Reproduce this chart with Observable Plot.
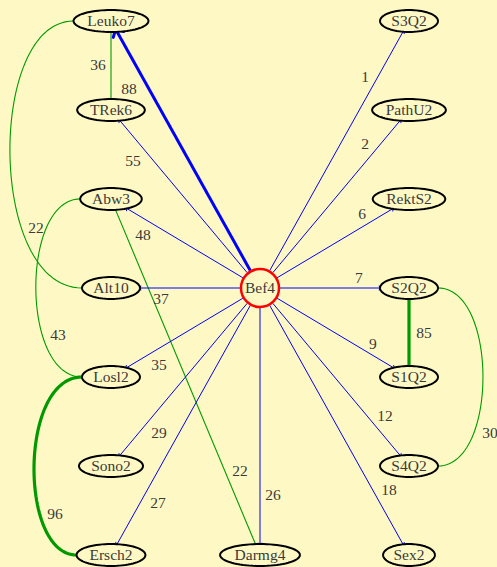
<!DOCTYPE html>
<html><head><meta charset="utf-8">
<script src="https://cdn.jsdelivr.net/npm/d3@7"></script>
<script src="https://cdn.jsdelivr.net/npm/@observablehq/plot@0.6"></script>
<style>html,body{margin:0;padding:0;background:#fef9c4;}</style>
</head><body><div id="chart"></div>
<script>
// Nodes (graph layout: grid column / row)
const nodeNames = ["Bef4","Leuko7","TRek6","Abw3","Alt10","Losl2","Sono2","Ersch2","Darmg4","Sex2","S4Q2","S1Q2","S2Q2","RektS2","PathU2","S3Q2"];
const nodeCol   = [1, 0,0,0,0,0,0,0, 1, 2,2,2,2,2,2,2];
const nodeRow   = [3, 0,1,2,3,4,5,6, 6, 6,5,4,3,2,1,0];

// Directed edges from the hub Bef4 (blue)
const hub = "Bef4";
const arrowTargets  = ["Leuko7","TRek6","Abw3","Alt10","Losl2","Sono2","Ersch2","Darmg4","Sex2","S4Q2","S1Q2","S2Q2","RektS2","PathU2","S3Q2"];
const arrowValues   = [88,55,48,37,35,29,27,26,18,12,9,7,6,2,1];
const arrowLabelCol = [0.121,0.148,0.215,0.336,0.322,0.322,0.315,1.087,1.866,1.839,1.758,1.664,1.685,1.705,1.705];
const arrowLabelRow = [0.764,1.573,2.404,3.124,3.865,4.629,5.416,5.326,5.270,4.438,3.629,2.888,2.169,1.382,0.629];

// Undirected edges (green)
const linkSource   = ["Leuko7","Leuko7","Abw3","Abw3","Losl2","S2Q2","S2Q2"];
const linkTarget   = ["TRek6","Alt10","Losl2","Darmg4","Ersch2","S1Q2","S4Q2"];
const linkValues   = [36,22,43,22,96,85,30];
const linkBend     = [null,-0.83,-0.606,null,-0.618,null,2.597];
const linkLabelCol = [-0.087,-0.503,-0.356,0.866,-0.376,2.101,2.544];
const linkLabelRow = [0.494,2.326,3.528,5.056,5.539,3.506,4.629];

const bg = "#fef9c4", textColor = "#3a3a3a", blue = "#0000ff", green = "#009a00";
const W = 497, H = 567;
const xRange = [110.5, 408.5], yRange = [20.5, 554.5];
const pxPerCol = (xRange[1]-xRange[0])/2, pxPerRow = (yRange[1]-yRange[0])/6;
const fontSize = 15.5;
const font = fontSize + "px 'Liberation Serif'";

const ctx = document.createElement("canvas").getContext("2d");
ctx.font = font;
const nodes = nodeNames.map((name,i) => {
  const w = ctx.measureText(name).width;
  const isHub = name === hub;
  const rxPx = isHub ? 20 : (w*Math.SQRT2 + 8)/2;
  const ryPx = isHub ? 20 : 11;
  return {name, x: nodeCol[i], y: nodeRow[i], rx: rxPx/pxPerCol, ry: ryPx/pxPerRow, hub: isHub};
});
const byName = new Map(nodes.map(n => [n.name, n]));

function boundary(n, dx, dy) {
  const t = 1/Math.sqrt((dx/n.rx)**2 + (dy/n.ry)**2);
  return [n.x + dx*t, n.y + dy*t];
}

const arrows = arrowTargets.map((t,i) => {
  const a = byName.get(hub), b = byName.get(t);
  const [x1,y1] = boundary(a, b.x-a.x, b.y-a.y);
  const [x2,y2] = boundary(b, a.x-b.x, a.y-b.y);
  return {x1,y1,x2,y2,value: arrowValues[i], lx: arrowLabelCol[i], ly: arrowLabelRow[i]};
});

const straight = [], curvePts = [], linkLabels = [];
linkSource.forEach((s,i) => {
  const a = byName.get(s), b = byName.get(linkTarget[i]);
  const v = linkValues[i];
  linkLabels.push({value: v, lx: linkLabelCol[i], ly: linkLabelRow[i]});
  if (linkBend[i] == null) {
    const [x1,y1] = boundary(a, b.x-a.x, b.y-a.y);
    const [x2,y2] = boundary(b, a.x-b.x, a.y-b.y);
    straight.push({x1,y1,x2,y2,value:v});
  } else {
    const c = linkBend[i];
    const side = c < a.x ? -1 : 1;
    const p0 = [a.x + side*a.rx, a.y], p3 = [b.x + side*b.rx, b.y];
    const p1 = [c, a.y], p2 = [c, b.y];
    for (let k = 0; k <= 60; k++) {
      const t = k/60, u = 1-t;
      const x = u*u*u*p0[0] + 3*u*u*t*p1[0] + 3*u*t*t*p2[0] + t*t*t*p3[0];
      const y = u*u*u*p0[1] + 3*u*u*t*p1[1] + 3*u*t*t*p2[1] + t*t*t*p3[1];
      curvePts.push({x, y, id: i, value: v});
    }
  }
});

const ellipsePts = [];
nodes.filter(n => !n.hub).forEach(n => {
  for (let k = 0; k <= 72; k++) {
    const th = 2*Math.PI*k/72;
    ellipsePts.push({x: n.x + n.rx*Math.cos(th), y: n.y + n.ry*Math.sin(th), id: n.name});
  }
});

const wBlue = d => d.value >= 80 ? 3 : 1;
const wGreen = d => d.value >= 80 ? 3.2 : 1.1;

const chart = Plot.plot({
  width: W, height: H,
  margin: 0,
  style: {background: bg, overflow: "visible"},
  x: {domain: [0,2], range: xRange, axis: null},
  y: {domain: [0,6], range: yRange, axis: null},
  marks: [
    Plot.line(curvePts, {x: "x", y: "y", z: "id", stroke: green, strokeWidth: wGreen, curve: "linear"}),
    Plot.link(straight, {x1: "x1", y1: "y1", x2: "x2", y2: "y2", stroke: green, strokeWidth: wGreen}),
    Plot.link(arrows, {x1: "x1", y1: "y1", x2: "x2", y2: "y2", stroke: blue, strokeWidth: wBlue, markerEnd: "arrow"}),
    Plot.line(ellipsePts, {x: "x", y: "y", z: "id", stroke: "black", strokeWidth: 2, fill: bg}),
    Plot.dot(nodes.filter(n => n.hub), {x: "x", y: "y", r: 19, stroke: "#ff0000", strokeWidth: 2.5, fill: bg}),
    Plot.text(nodes, {x: "x", y: "y", text: "name", fill: textColor, fontSize, fontFamily: "Liberation Serif"}),
    Plot.text(arrows, {x: "lx", y: "ly", text: "value", fill: textColor, fontSize, fontFamily: "Liberation Serif"}),
    Plot.text(linkLabels, {x: "lx", y: "ly", text: "value", fill: textColor, fontSize, fontFamily: "Liberation Serif"})
  ]
});
document.getElementById("chart").appendChild(chart);
</script>
</body></html>
